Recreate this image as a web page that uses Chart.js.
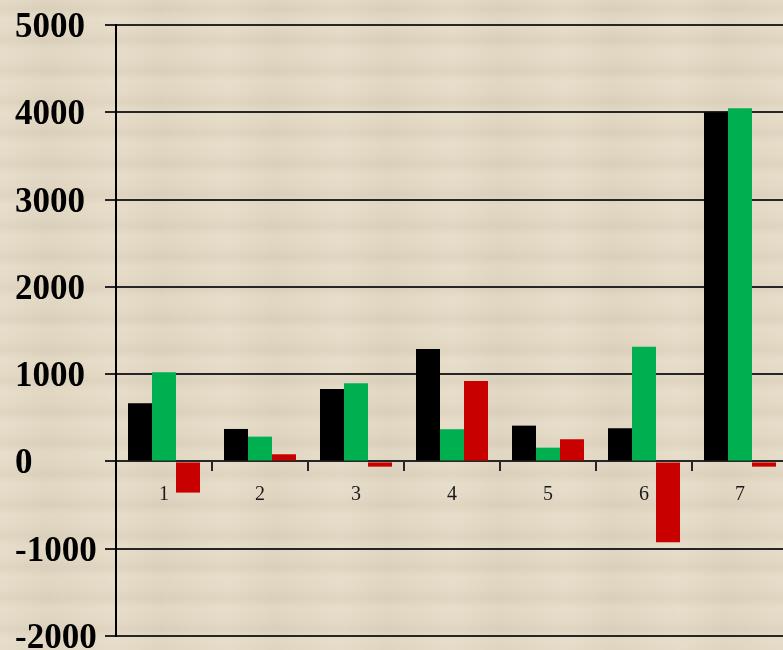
<!DOCTYPE html>
<html>
<head>
<meta charset="utf-8">
<script src="https://cdn.jsdelivr.net/npm/chart.js@4/dist/chart.umd.min.js"></script>
<style>
    html, body { margin: 0; padding: 0; }
    #wrap {
        width: 783px;
        height: 650px;
        overflow: hidden;
        background-color: #e3d9c5;
        background-image:
            repeating-linear-gradient(180deg, rgba(120,100,70,0.00) 0px, rgba(120,100,70,0.05) 9px, rgba(255,250,235,0.08) 19px, rgba(120,100,70,0.00) 31px),
            repeating-linear-gradient(90deg, rgba(255,250,235,0.08) 0px, rgba(120,100,70,0.04) 47px, rgba(255,250,235,0.07) 113px);
    }
    canvas { display: block; }
</style>
</head>
<body>
<div id="wrap"><canvas id="chart" width="800" height="680"></canvas></div>
<script>
document.addEventListener('DOMContentLoaded', function() {
    // Categorias y series
    var categories = ['1', '2', '3', '4', '5', '6', '7'];
    var serieNegra = [667, 372, 830, 1289, 410, 380, 4000];
    var serieVerde = [1022, 284, 896, 369, 158, 1315, 4046];
    var serieRoja = [-357, 82, -60, 922, 254, -926, -60];

    var lineColor = '#262626';

    var data = {
        labels: categories,
        datasets: [
            { data: serieNegra, backgroundColor: '#000000' },
            { data: serieVerde, backgroundColor: '#00b050' },
            { data: serieRoja, backgroundColor: '#c80000' }
        ]
    };

    var options = {
        responsive: false,
        animation: false,
        layout: { padding: { left: 15, top: 25, right: 12, bottom: 44 } },
        datasets: { bar: { categoryPercentage: 0.75, barPercentage: 1.0 } },
        plugins: {
            legend: { display: false },
            tooltip: { enabled: false }
        },
        scales: {
            x: {
                position: { y: 0 },
                grid: {
                    offset: true,
                    drawOnChartArea: false,
                    drawTicks: true,
                    tickLength: 9,
                    color: lineColor,
                    lineWidth: 2
                },
                border: { display: true, color: lineColor, width: 2 },
                ticks: {
                    color: '#1a1a1a',
                    padding: 12,
                    font: { family: 'Liberation Serif', size: 20 }
                }
            },
            y: {
                min: -2000,
                max: 5000,
                afterFit: function(scale) { scale.width = 101; },
                grid: {
                    color: lineColor,
                    lineWidth: 2,
                    tickLength: 11
                },
                border: { display: true, color: '#000000', width: 2 },
                ticks: {
                    stepSize: 1000,
                    crossAlign: 'far',
                    labelOffset: 3,
                    color: '#000000',
                    font: { family: 'Liberation Serif', size: 35, weight: 'bold' },
                    // sin separador de miles
                    callback: function(value) { return String(value); }
                }
            }
        }
    };

    var ctx = document.getElementById('chart').getContext('2d');
    new Chart(ctx, {
        type: 'bar',
        data: data,
        options: options
    });
});
</script>
</body>
</html>
